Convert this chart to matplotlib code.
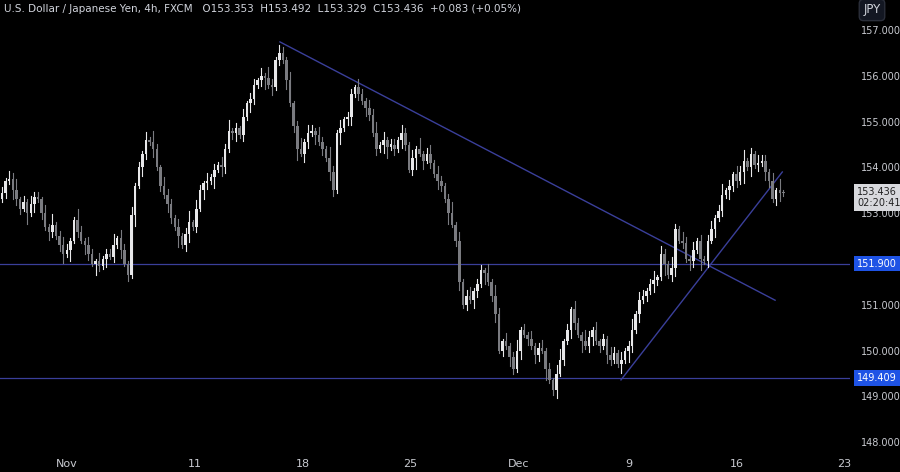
import matplotlib
matplotlib.use("Agg")
import matplotlib.pyplot as plt
from matplotlib.patches import Rectangle

closes = [153.45,153.7,153.75,153.5,153.3,153.1,153.25,153.0,153.2,153.35,153.3,
          153.0,152.7,152.6,152.75,152.5,152.3,152.1,152.2,152.4,152.85,
          152.6,152.4,152.3,152.1,151.9,151.95,151.85,152.0,152.1,152.05,152.3,152.45,152.2,151.9,151.65,
          152.95,153.6,154.0,154.3,154.6,154.55,154.4,154.0,153.6,153.4,
          153.2,152.9,152.7,152.5,152.3,152.55,152.8,152.7,153.1,153.5,
          153.65,153.7,153.8,153.95,154.05,154.0,154.4,154.8,154.75,154.85,
          154.7,155.1,155.4,155.5,155.8,155.9,156.0,155.95,155.8,155.75,
          156.35,156.5,156.35,155.9,155.4,154.9,154.4,
          154.3,154.55,154.75,154.8,154.7,154.55,154.4,154.2,153.9,153.5,
          154.75,154.85,155.05,155.1,155.6,155.75,155.6,155.45,155.3,155.15,
          154.75,154.4,154.5,154.6,154.45,154.5,154.4,154.6,154.75,154.5,
          153.95,154.2,154.4,154.3,154.15,154.3,154.1,153.85,153.7,153.6,
          153.3,153.0,152.75,152.4,151.5,151.0,151.2,151.1,151.3,151.45,
          151.75,151.7,151.5,151.2,150.8,150.0,150.2,150.1,149.85,149.6,
          150.0,150.45,150.35,150.25,150.1,149.9,150.05,150.0,149.6,149.35,
          149.15,149.5,149.8,150.2,150.45,150.9,150.6,150.35,150.2,150.1,
          150.3,150.45,150.2,150.1,150.25,149.9,149.8,149.95,149.7,149.8,
          150.0,150.1,150.45,150.8,151.1,151.2,151.3,151.45,151.55,151.6,
          152.1,151.9,151.65,151.8,152.65,152.4,152.35,152.0,151.95,152.2,
          152.4,152.0,151.95,152.4,152.65,152.9,153.05,153.4,153.5,153.6,
          153.85,153.7,153.9,154.15,154.0,154.3,154.05,154.1,154.15,153.9,
          153.7,153.3,153.5,153.45,153.436]
first_open = 153.3
upper_w = "2132412132213141232114213213122413213121314213221312413213121324121312213142132131241321321421312213213241312213213141231321241312312213142131241213123121341213214213121321312413212313214213213121231241"
lower_w = "1213221413121321231412132142131213121413213121321412312132141321231213212413121312413213121321412312132121341213212413121321412312132141231213213121321412312132141231213211314213121321412312132141213"

tick_pos = [18, 53.5, 83.5, 113.5, 143.5, 174, 204, 234]
tick_lbl = ["Nov", "11", "18", "25", "Dec", "9", "16", "23"]
yticks = [148, 149, 150, 151, 152, 153, 154, 155, 156, 157]
level_hi = 151.900
level_lo = 149.409
down_line = ([77.2, 214.7], [156.74, 151.1])
up_line = ([171.9, 216.7], [149.36, 153.9])

W, H = 900, 472
fig = plt.figure(figsize=(9, 4.72), dpi=100, facecolor="black")
ax = fig.add_axes([0, 20/H, 850/W, 452/H])
ax.set_facecolor("black")
for s in ax.spines.values():
    s.set_visible(False)

bull = "#e8e8ea"; bear = "#7a7b80"
o = first_open
for i, c in enumerate(closes):
    uw = int(upper_w[i % len(upper_w)]) * 0.06
    lw = int(lower_w[i % len(lower_w)]) * 0.06
    col = bull if c >= o else bear
    hi = max(o, c) + uw; lo = min(o, c) - lw
    ax.plot([i, i], [lo, hi], color=col, lw=0.8, zorder=2)
    body = max(abs(c - o), 0.02)
    ax.add_patch(Rectangle((i - 0.35, min(o, c)), 0.7, body, color=col, zorder=3, lw=0))
    o = c

lc = "#3a3f9a"
ax.axhline(level_hi, color=lc, lw=0.9, zorder=1)
ax.axhline(level_lo, color=lc, lw=0.9, zorder=1)
ax.plot(*down_line, color=lc, lw=1.0, zorder=1)
ax.plot(*up_line, color=lc, lw=1.0, zorder=1)

ymin = 157 - 422/45.8
ymax = 157 + 30/45.8
ax.set_ylim(ymin, ymax)
ax.set_xlim(-0.55, 235.5)
ax.set_xticks(tick_pos)
ax.set_xticklabels(tick_lbl)
ax.tick_params(axis="x", length=0, colors="#c8cad0", labelsize=8, pad=5)
ax.yaxis.tick_right()
ax.set_yticks(yticks)
ax.set_yticklabels(["" if v == 152 else f"{v:.3f}" for v in yticks])
ax.tick_params(axis="y", length=0, colors="#c8cad0", labelsize=7, pad=8)

def ylab(v, text, fc, tc):
    ax.text(1.0 + 7/850, v, text, transform=ax.get_yaxis_transform(), ha="left", va="center",
            fontsize=7, color=tc, zorder=10,
            bbox=dict(boxstyle="square,pad=0.3", fc=fc, ec="none"))

ylab(level_hi, "151.900", "#1e53e5", "white")
ylab(level_lo, "149.409", "#1e53e5", "white")
ax.text(1.0 + 7/850, closes[-1] - 0.1, f"{closes[-1]:.3f}\n02:20:41", transform=ax.get_yaxis_transform(),
        ha="left", va="center", fontsize=7, color="#222", zorder=10, linespacing=1.1,
        bbox=dict(boxstyle="square,pad=0.3", fc="#d8d9dd", ec="none"))

fig.text(4/W, 1 - 9/H, "U.S. Dollar / Japanese Yen, 4h, FXCM   O153.353  H153.492  L153.329  C153.436  +0.083 (+0.05%)",
         color="#d1d4dc", fontsize=7.5, va="center", ha="left")
fig.text(872/W, 1 - 10/H, "JPY", color="#d1d4dc", fontsize=8.5, va="center", ha="center",
         bbox=dict(boxstyle="round,pad=0.35", fc="#131722", ec="#2a2e39"))

fig.savefig("out.png", dpi=100, facecolor="black")
